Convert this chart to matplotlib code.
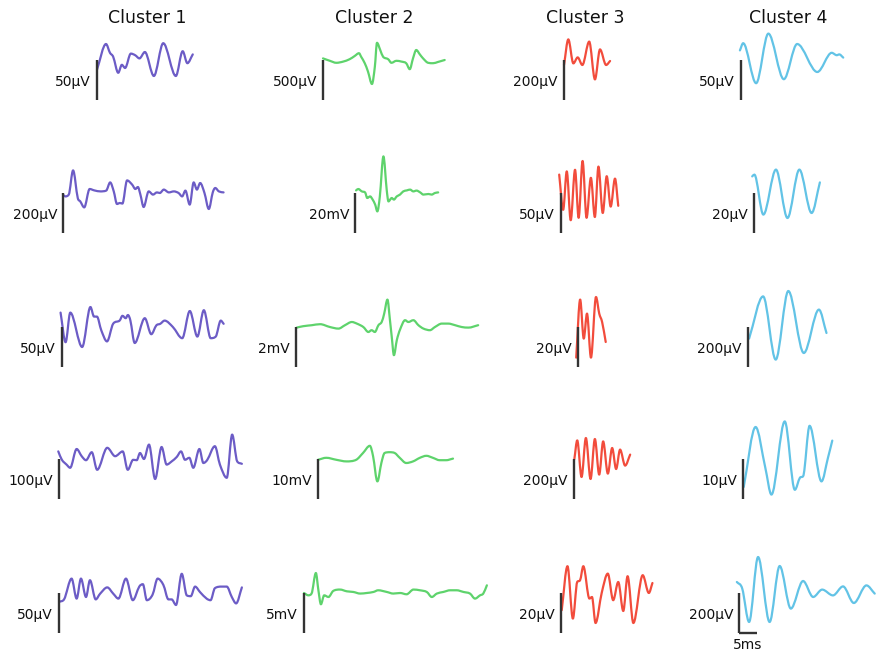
import numpy as np
import matplotlib
matplotlib.use('Agg')
import matplotlib.pyplot as plt
from matplotlib.path import Path
from matplotlib.patches import PathPatch

# Waveforms: time in ms, amplitude in the unit of the
# panel's scale bar (measured from the bottom of the bar)
clusters = ['Cluster 1', 'Cluster 2', 'Cluster 3', 'Cluster 4']
colors = ['#6c5cc6', '#5ed36c', '#f24c3c', '#62c3e6']

# ---- row 1
t_11 = [0, 2.5, 3.6, 4.5, 5.9, 6.9, 7.8, 9.4, 10.6, 11.8, 13.3, 15.8, 18.4, 21.9, 23.8, 25.1, 26.6]
v_11 = [38, 70, 59, 54, 34, 44, 40, 58, 56, 52, 60, 30, 71, 30, 61, 46, 57]
t_12 = [0, 1.9, 3.7, 5.6, 7.4, 8.8, 10.0, 10.6, 11.6, 12.5, 13.6, 14.4, 15.0, 15.9, 16.7,
        18.1, 19.0, 20.4, 21.8, 23.1, 24.1, 25.0, 25.9, 26.9, 27.8, 29.2, 30.6, 31.9, 33.8]
v_12 = [520, 490, 465, 480, 510, 550, 585, 540, 460, 355, 200, 415, 715, 625, 540,
        510, 465, 490, 480, 460, 385, 520, 625, 570, 520, 465, 460, 475, 500]
t_13 = [0, 1.2, 2.6, 3.8, 5.1, 7.0, 8.6, 10.0, 11.7, 12.8]
v_13 = [175, 303, 183, 213, 175, 292, 103, 253, 175, 195]
t_14 = [-0.3, 0.6, 4.2, 7.6, 11.9, 15.6, 21.2, 25.2, 26.6, 27.3, 28.4]
v_14 = [62, 71, 21, 83, 26, 70, 35, 59, 56, 57, 53]

# ---- row 2
t_21 = [0, 0.6, 1.6, 2.8, 4.1, 4.8, 5.9, 7.4, 8.7, 10.4, 12.0, 13.1, 14.1, 15.0, 15.8, 16.5,
        17.8, 19.2, 20.1, 20.8, 21.5, 22.4, 23.8, 25.0, 26.1, 26.9, 28.0, 29.4, 30.8, 32.1,
        33.1, 34.0, 35.2, 36.3, 37.2, 38.1, 39.3, 40.5, 41.6, 42.3, 43.3, 44.6]
v_21 = [192, 183, 192, 313, 175, 158, 128, 220, 213, 208, 212, 253, 208, 145, 150, 147,
        263, 242, 220, 230, 192, 130, 208, 192, 203, 200, 217, 203, 208, 200,
        183, 212, 142, 253, 217, 250, 200, 120, 203, 225, 208, 203]
t_22 = [0.3, 0.9, 1.9, 2.8, 3.4, 4.2, 4.9, 5.6, 6.2, 6.9, 7.9, 8.8, 9.3, 10.2, 10.8, 11.6,
        12.5, 13.4, 14.4, 15.3, 16.2, 17.1, 18.1, 19.0, 20.4, 21.3, 22.2, 23.1]
v_22 = [21.3, 22.0, 20.8, 20.3, 17.5, 18.3, 16.7, 14.2, 10.8, 18.3, 38.3, 21.7, 15.8, 17.5,
        16.7, 18.3, 19.2, 20.8, 21.3, 21.7, 20.8, 21.2, 20.3, 19.2, 19.5, 19.2, 20.0, 20.3]
t_23 = [-0.5, 0.6, 1.6, 2.7, 3.9, 4.9, 6.0, 7.1, 8.3, 9.4, 10.4, 11.6, 12.7, 13.8, 15.0, 15.9]
v_23 = [73, 29, 77, 16, 79, 19, 90, 19, 69, 20, 83, 25, 71, 33, 68, 34]
t_24 = [-0.5, 0.1, 2.6, 6.1, 9.3, 12.6, 16.0, 18.3]
v_24 = [28.3, 29.2, 9.2, 31.7, 7.5, 31.7, 10.0, 25.3]

# ---- row 3
t_31 = [-0.4, 1.0, 2.3, 5.6, 7.9, 8.9, 9.7, 10.9, 12.5, 14.2, 16.0, 16.8, 17.7, 18.3, 19.0,
        20.2, 23.0, 24.8, 26.2, 27.3, 28.5, 30.8, 33.4, 35.5, 37.6, 39.4, 41.3, 42.7, 44.1, 44.9]
v_31 = [68, 31, 68, 25, 75, 63, 63, 46, 32, 54, 58, 64, 61, 65, 58,
        30, 61, 41, 52, 54, 58, 50, 36, 70, 38, 71, 36, 38, 58, 54]
t_32 = [0.2, 2.0, 4.4, 6.7, 9.4, 11.8, 13.6, 15.5, 16.9, 18.7, 20.1, 21.0, 21.9, 22.9, 23.8,
        24.5, 25.4, 26.1, 26.6, 27.2, 28.0, 28.9, 30.3, 31.2, 32.6, 34.0, 35.4, 37.2, 38.6,
        40.5, 42.3, 44.2, 46.0, 47.9, 50.6]
v_32 = [1.97, 2.04, 2.09, 2.14, 2.00, 1.92, 2.09, 2.25, 2.17, 2.00, 1.75, 1.84, 1.75, 2.09,
        2.25, 2.67, 3.37, 2.34, 1.50, 0.59, 1.34, 1.87, 2.34, 2.25, 2.34, 2.09, 1.92, 1.84,
        2.00, 2.17, 2.17, 2.09, 2.00, 1.97, 2.09]
t_33 = [-0.5, 0.6, 1.6, 2.5, 3.6, 5.0, 5.9, 6.7, 7.7]
v_33 = [4.7, 33.7, 14.2, 26.7, 4.7, 35.0, 26.7, 22.5, 12.5]
t_34 = [0.3, 4.2, 7.7, 11.2, 15.5, 19.7, 21.8]
v_34 = [142, 353, 37, 380, 70, 287, 170]

# ---- row 4
t_41 = [-0.2, 0.8, 2.1, 3.1, 4.9, 6.3, 7.5, 9.1, 10.6, 13.4, 15.6, 17.7, 19.1, 20.6, 21.6,
        22.5, 23.6, 25.0, 26.7, 28.5, 29.9, 31.3, 32.7, 33.9, 35.0, 36.2, 37.3, 39.0, 40.1,
        41.2, 43.3, 44.7, 46.6, 48.1, 49.5, 50.8]
v_41 = [119, 98, 86, 78, 125, 107, 97, 117, 73, 128, 107, 119, 73, 98, 97,
        115, 100, 136, 50, 130, 86, 94, 105, 119, 98, 103, 78, 125, 90,
        98, 132, 86, 53, 161, 94, 88]
t_42 = [0, 2.3, 5.1, 7.9, 10.6, 12.5, 14.4, 15.3, 16.5, 17.6, 18.5, 19.9, 21.3, 22.7, 24.5,
        26.4, 28.3, 30.1, 31.9, 33.8, 35.6, 37.5]
v_42 = [9.8, 10.3, 9.8, 9.4, 9.8, 11.5, 13.3, 10.7, 4.4, 9.0, 11.5, 11.7, 11.5, 10.3, 9.0,
        9.4, 10.3, 10.8, 10.3, 9.7, 9.7, 10.1]
t_43 = [0.1, 0.9, 2.1, 3.3, 4.6, 5.8, 7.0, 8.1, 9.4, 10.6, 11.7, 12.8, 14.2, 15.6]
v_43 = [200, 293, 110, 305, 100, 300, 122, 288, 127, 255, 150, 247, 167, 222]
t_44 = [0.2, 3.5, 6.2, 7.9, 11.6, 14.4, 15.8, 16.7, 18.5, 21.8, 23.6, 24.8]
v_44 = [3.0, 18.0, 7.8, 1.1, 19.4, 2.3, 5.3, 5.7, 18.3, 4.4, 10.3, 14.6]

# ---- row 5
t_51 = [0.1, 1.4, 3.5, 4.9, 6.1, 7.5, 8.6, 10.2, 11.4, 13.4, 15.1, 16.5, 18.6, 20.5, 22.3,
        23.3, 24.4, 26.0, 27.4, 29.0, 30.4, 31.3, 32.5, 34.1, 35.5, 36.6, 37.8, 39.2, 41.0,
        42.1, 43.3, 45.2, 46.6, 48.0, 49.2, 50.8]
v_51 = [39, 42, 68, 43, 68, 45, 66, 42, 49, 57, 49, 43, 68, 41, 58,
        61, 41, 48, 68, 60, 42, 42, 35, 74, 47, 46, 58, 51, 43,
        41, 56, 58, 58, 45, 37, 57]
t_52 = [0, 1.2, 2.1, 3.3, 4.0, 4.7, 5.6, 6.8, 8.1, 10.0, 11.9, 13.7, 15.6, 17.4, 19.3, 20.6,
        23.0, 24.8, 26.7, 28.5, 30.4, 32.2, 34.1, 35.5, 36.9, 38.7, 40.6, 42.4, 44.3, 46.1,
        47.5, 48.9, 49.8, 50.8]
v_52 = [5.00, 4.71, 4.93, 7.50, 5.34, 3.59, 4.71, 4.50, 5.25, 5.43, 5.21, 5.13, 4.93, 5.00,
        5.13, 5.34, 5.13, 4.93, 5.00, 4.84, 5.43, 5.34, 5.13, 4.50, 4.93, 5.13, 5.34, 5.34,
        5.13, 4.93, 4.30, 4.71, 4.93, 5.96]
t_53 = [0.2, 1.8, 3.3, 4.5, 5.3, 6.2, 7.9, 8.6, 9.6, 11.3, 13.0, 14.5, 15.9, 17.3, 18.5,
        20.1, 22.7, 24.4, 25.4]
v_53 = [11.4, 33.4, 7.2, 25.5, 26.4, 33.4, 17.2, 18.0, 5.0, 20.0, 29.7, 16.4, 25.5, 11.0,
        28.4, 5.0, 28.9, 20.0, 25.0]
t_54 = [-0.6, 0.9, 2.8, 5.3, 8.5, 11.3, 14.4, 17.8, 20.6, 23.1, 26.1, 28.9, 31.9, 35.4, 37.7]
v_54 = [255, 222, 55, 380, 55, 335, 122, 260, 180, 217, 188, 233, 150, 238, 197]

traces = [[(t_11, v_11), (t_12, v_12), (t_13, v_13), (t_14, v_14)],
          [(t_21, v_21), (t_22, v_22), (t_23, v_23), (t_24, v_24)],
          [(t_31, v_31), (t_32, v_32), (t_33, v_33), (t_34, v_34)],
          [(t_41, v_41), (t_42, v_42), (t_43, v_43), (t_44, v_44)],
          [(t_51, v_51), (t_52, v_52), (t_53, v_53), (t_54, v_54)]]

# scale bar values and their labels
scale_vals = [[50, 500, 200, 50],
              [200, 20, 50, 20],
              [50, 2, 20, 200],
              [100, 10, 200, 10],
              [50, 5, 20, 200]]
scale_labels = [['50µV', '500µV', '200µV', '50µV'],
                ['200µV', '20mV', '50µV', '20µV'],
                ['50µV', '2mV', '20µV', '200µV'],
                ['100µV', '10mV', '200µV', '10µV'],
                ['50µV', '5mV', '20µV', '200µV']]
time_bar_ms = 5

# layout (pixels): scale-bar foot of every panel
W, H = 876, 652
bar_x = [[97, 323, 564, 741],
         [63, 355, 561, 754],
         [62, 296, 578, 748],
         [59, 318, 574, 743],
         [59, 304, 561, 739]]
bar_y = [100, 233, 367, 499, 633]
title_x = [147, 374, 585, 788]
px_per_ms = 3.6
bar_px = 40


def smooth_path(t, v):
    t = np.asarray(t, float)
    v = np.asarray(v, float)
    n = len(t)
    sec = np.diff(v) / np.diff(t)
    m = np.zeros(n)
    m[0], m[-1] = sec[0], sec[-1]
    for i in range(1, n - 1):
        if sec[i - 1] * sec[i] > 0:
            s = (v[i + 1] - v[i - 1]) / (t[i + 1] - t[i - 1])
            lim = 3 * min(abs(sec[i - 1]), abs(sec[i]))
            m[i] = np.sign(s) * min(abs(s), lim)
    verts = [(t[0], v[0])]
    codes = [Path.MOVETO]
    for i in range(n - 1):
        d = (t[i + 1] - t[i]) / 3
        verts += [(t[i] + d, v[i] + m[i] * d), (t[i + 1] - d, v[i + 1] - m[i + 1] * d),
                  (t[i + 1], v[i + 1])]
        codes += [Path.CURVE4] * 3
    return Path(verts, codes)


fig = plt.figure(figsize=(W / 100, H / 100), dpi=100)

for c, name in enumerate(clusters):
    fig.text(title_x[c] / W, 1 - 18 / H, name, ha='center', va='center', fontsize=12.5,
             color='#111111')

padl, padr, padd, padu = 14, 190, 20, 90
for r in range(5):
    for c in range(4):
        x0, y0 = bar_x[r][c], bar_y[r]
        sc = scale_vals[r][c]
        ax = fig.add_axes([(x0 - padl) / W, (H - y0 - padd) / H, (padl + padr) / W, (padd + padu) / H])
        ax.set_xlim(-padl / px_per_ms, padr / px_per_ms)
        ax.set_ylim(-padd * sc / bar_px, padu * sc / bar_px)
        ax.axis('off')
        t, v = traces[r][c]
        ax.add_patch(PathPatch(smooth_path(t, v), fill=False, edgecolor=colors[c], lw=1.6,
                               capstyle='round', joinstyle='round', clip_on=False))
        ax.plot([0, 0], [0, sc], color='#333333', lw=1.7, solid_capstyle='butt')
        ax.annotate(scale_labels[r][c], xy=(0, sc / 2), xytext=(-6, -2), textcoords='offset pixels',
                    ha='right', va='center', fontsize=10, color='#111111')
        if r == 4 and c == 3:
            ax.plot([0, time_bar_ms], [0, 0], color='#333333', lw=1.7, solid_capstyle='butt')
            ax.annotate(f'{time_bar_ms}ms', xy=(time_bar_ms / 2, 0), xytext=(0, -12),
                        textcoords='offset pixels', ha='center', va='center', fontsize=10,
                        color='#111111')

fig.savefig('out.png', dpi=100)
